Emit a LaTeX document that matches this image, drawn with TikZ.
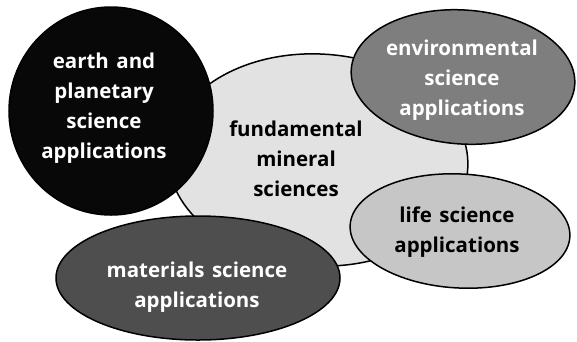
\documentclass[tikz,border=0pt]{standalone}
\usepackage{fontspec}
\setmainfont[WordSpace=1.4]{Open Sans}
\usetikzlibrary{shapes.geometric}
\definecolor{cfund}{HTML}{E2E2E2}
\definecolor{cearth}{HTML}{080808}
\definecolor{cenv}{HTML}{7E7E7E}
\definecolor{clife}{HTML}{C6C6C6}
\definecolor{cmat}{HTML}{4E4E4E}
\tikzset{
  blob/.style={ellipse, draw=black, line width=1.5pt, inner sep=0pt},
  lbl/.style={align=center, font=\bfseries\fontsize{20.5}{30}\selectfont},
}
\begin{document}
\begin{tikzpicture}[x=1pt,y=-1pt]
\useasboundingbox (0,0) rectangle (577,341);
% central
\node[blob, fill=cfund, minimum width=300pt, minimum height=212pt, rotate=-3] (fund) at (318,160) {};
% others
\node[blob, fill=cearth, minimum width=204pt, minimum height=208pt] (earth) at (111,111) {};
\node[blob, fill=cenv, minimum width=224pt, minimum height=134pt, rotate=-4] (env) at (463,77) {};
\node[blob, fill=clife, minimum width=220pt, minimum height=114pt, rotate=-3] (life) at (460,231) {};
\node[blob, fill=cmat, minimum width=284pt, minimum height=124pt] (mat) at (198,278) {};
% labels
\node[lbl, text=black] (tfund) at (296,159) {fundamental\\mineral\\sciences};
\node[lbl, text=white] (tearth) at (104,108) {earth and\\planetary\\science\\applications};
\node[lbl, text=white] (tenv) at (462,80) {environmental\\science\\applications};
\node[lbl, text=black] (tlife) at (457,232) {life science\\applications};
\node[lbl, text=white] (tmat) at (197,287) {materials science\\applications};
\end{tikzpicture}
\end{document}
